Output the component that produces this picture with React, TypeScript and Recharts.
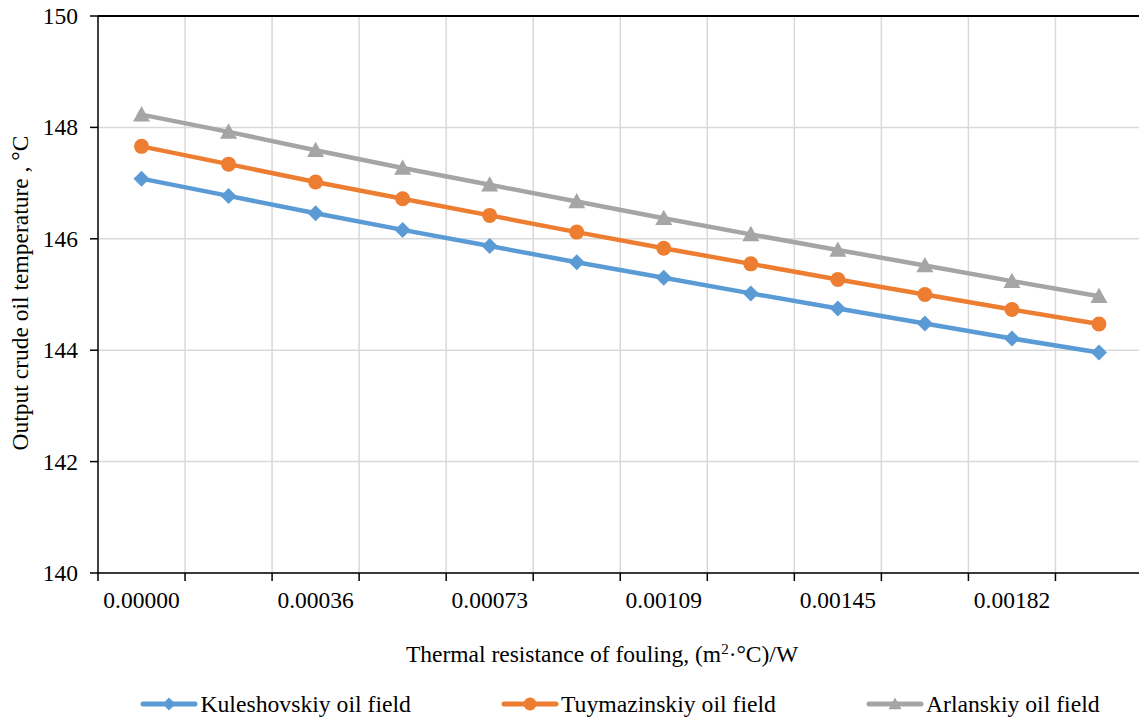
import React from 'react';
import { LineChart, Line, XAxis, YAxis, CartesianGrid, ReferenceLine } from 'recharts';

const categories = ['0.00000', '0.00018', '0.00036', '0.00055', '0.00073', '0.00091', '0.00109', '0.00127', '0.00145', '0.00164', '0.00182', '0.00200'];
const kuleshovskiy = [147.08, 146.77, 146.46, 146.16, 145.87, 145.58, 145.3, 145.02, 144.75, 144.48, 144.21, 143.96];
const tuymazinskiy = [147.66, 147.34, 147.02, 146.72, 146.42, 146.12, 145.83, 145.55, 145.27, 145.0, 144.73, 144.47];
const arlanskiy = [148.23, 147.92, 147.59, 147.27, 146.97, 146.67, 146.37, 146.08, 145.8, 145.52, 145.24, 144.97];
const yTicks = [140, 142, 144, 146, 148, 150];
const seriesNames = ['Kuleshovskiy oil field', 'Tuymazinskiy oil field', 'Arlanskiy oil field'];
const colors = ['#5B9BD5', '#ED7D31', '#A5A5A5'];

const data = categories.map((c, i) => ({
  idx: i,
  cat: c,
  k: kuleshovskiy[i],
  t: tuymazinskiy[i],
  a: arlanskiy[i],
}));

const boundaries = [...categories.map((_, i) => i - 0.5), categories.length - 0.5];
const labelTicks = categories.map((_, i) => i).filter((i) => i % 2 === 0);
const allTicks = [...boundaries, ...labelTicks].sort((a, b) => a - b);

const FONT = 'Liberation Serif, Tinos, Times New Roman, DejaVu Serif, Noto Serif, serif';
const FS = 23.5;

const XTick = (props: any) => {
  const { x, y, payload } = props;
  const v = payload.value;
  if (!Number.isInteger(v)) {
    return <line x1={x} x2={x} y1={y - 8} y2={y} stroke="#000" strokeWidth={1.5} />;
  }
  if (v % 2 !== 0) return null;
  return (
    <text x={x} y={y} dy={27} textAnchor="middle" fill="#000" fontSize={FS} style={{ fontFamily: FONT }}>
      {categories[v]}
    </text>
  );
};

const YTick = (props: any) => {
  const { x, y, payload } = props;
  return (
    <text x={x} y={y} dy={8} textAnchor="end" fill="#000" fontSize={FS} style={{ fontFamily: FONT }}>
      {payload.value}
    </text>
  );
};

const Diamond = (props: any) => {
  const { cx, cy, fill, s = 8 } = props;
  if (cx == null || cy == null) return null;
  return <path d={`M${cx},${cy - s}L${cx + s},${cy}L${cx},${cy + s}L${cx - s},${cy}Z`} fill={fill} />;
};
const Circle = (props: any) => {
  const { cx, cy, fill, r = 7.5 } = props;
  if (cx == null || cy == null) return null;
  return <circle cx={cx} cy={cy} r={r} fill={fill} />;
};
const Triangle = (props: any) => {
  const { cx, cy, fill, s = 8.5 } = props;
  if (cx == null || cy == null) return null;
  return <path d={`M${cx},${cy - s}L${cx + s},${cy + s * 0.8}L${cx - s},${cy + s * 0.8}Z`} fill={fill} />;
};

const YLabel = () => (
  <text
    x={20}
    y={293}
    transform="rotate(-90 20 293)"
    textAnchor="middle"
    dominantBaseline="central"
    fill="#000"
    fontSize={FS}
    style={{ fontFamily: FONT }}
  >
    Output crude oil temperature , °C
  </text>
);

const XLabel = () => (
  <text x={602} y={662} textAnchor="middle" fill="#000" fontSize={FS} style={{ fontFamily: FONT }}>
    Thermal resistance of fouling, (m
    <tspan fontSize={15} dy={-8}>2</tspan>
    <tspan dy={8}>·°C)/W</tspan>
  </text>
);

const markers = [Diamond, Circle, Triangle];

const LegendIcon = ({ i }: { i: number }) => {
  const M = markers[i];
  return (
    <svg width={58} height={20} style={{ display: 'block' }}>
      <line x1={3} x2={55} y1={10} y2={10} stroke={colors[i]} strokeWidth={5} strokeLinecap="round" />
      <M cx={29} cy={10} fill={colors[i]} s={6.5} r={6.5} />
    </svg>
  );
};

export default function App() {
  return (
    <div style={{ position: 'absolute', left: 0, top: 0, width: 1139, height: 720, overflow: 'hidden', background: '#fff', fontFamily: FONT }}>
      <LineChart
        width={1150}
        height={720}
        data={data}
        margin={{ top: 16, right: 7.5, left: 0, bottom: 97 }}
        style={{ fontFamily: FONT }}
      >
        <CartesianGrid vertical={false} stroke="#D9D9D9" strokeWidth={1.5} />
        {boundaries.slice(1).map((b) => (
          <ReferenceLine key={b} x={b} stroke="#D9D9D9" strokeWidth={1.5} />
        ))}
        <ReferenceLine y={150} stroke="#000" strokeWidth={2} />
        <XAxis
          dataKey="idx"
          type="number"
          domain={[-0.5, categories.length - 0.5]}
          ticks={allTicks}
          interval={0}
          tick={<XTick />}
          tickLine={false}
          tickSize={8}
          tickMargin={0}
          height={50}
          axisLine={{ stroke: '#000', strokeWidth: 1.5 }}
          label={<XLabel />}
        />
        <YAxis
          domain={[140, 150]}
          ticks={yTicks}
          interval={0}
          width={98}
          tickSize={8}
          tickMargin={12}
          tick={<YTick />}
          tickLine={{ stroke: '#000', strokeWidth: 1.5 }}
          axisLine={{ stroke: '#000', strokeWidth: 1.5 }}
          label={<YLabel />}
        />
        <Line dataKey="k" name={seriesNames[0]} stroke={colors[0]} strokeWidth={4.5} isAnimationActive={false} dot={(p: any) => <Diamond key={p.index} {...p} fill={colors[0]} />} />
        <Line dataKey="t" name={seriesNames[1]} stroke={colors[1]} strokeWidth={4.5} isAnimationActive={false} dot={(p: any) => <Circle key={p.index} {...p} r={7.5} fill={colors[1]} />} />
        <Line dataKey="a" name={seriesNames[2]} stroke={colors[2]} strokeWidth={4.5} isAnimationActive={false} dot={(p: any) => <Triangle key={p.index} {...p} fill={colors[2]} />} />
      </LineChart>
      <div
        style={{
          position: 'absolute',
          left: 98,
          width: 1044,
          top: 690,
          height: 28,
          display: 'flex',
          justifyContent: 'center',
          alignItems: 'center',
          gap: 90,
        }}
      >
        {seriesNames.map((n, i) => (
          <div key={n} style={{ display: 'flex', alignItems: 'center' }}>
            <LegendIcon i={i} />
            <span style={{ fontSize: 23.7, marginLeft: 2, color: '#000', whiteSpace: 'nowrap', fontFamily: FONT }}>{n}</span>
          </div>
        ))}
      </div>
    </div>
  );
}
